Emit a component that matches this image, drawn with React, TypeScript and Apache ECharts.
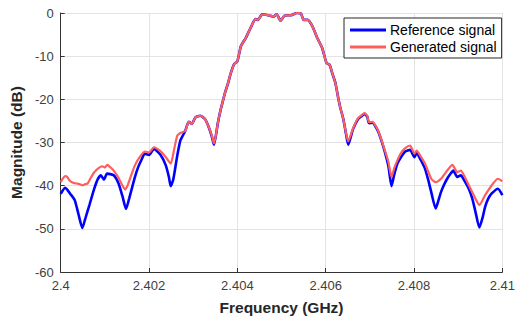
import React, { useEffect, useRef } from "react";
import * as echarts from "echarts";

const refFreq = [
  2.4, 2.4001, 2.40024, 2.40032, 2.4004, 2.40049, 2.40056, 2.40065, 2.40076, 2.40084,
  2.40091, 2.40098, 2.40105, 2.4012, 2.40131, 2.4014, 2.40148, 2.40155, 2.40161, 2.40168,
  2.401755, 2.40183, 2.4019, 2.402, 2.40211, 2.40227, 2.40238, 2.40245, 2.40249, 2.40255,
  2.40264, 2.40271, 2.40276, 2.40282, 2.4029, 2.40297, 2.40305, 2.40316, 2.40327, 2.40334,
  2.40342, 2.40347, 2.40352, 2.40356, 2.40362, 2.40367, 2.40372, 2.40378, 2.40385, 2.40393,
  2.404, 2.40408, 2.40419, 2.40426, 2.40433, 2.40441, 2.40447, 2.40456, 2.4047, 2.40482,
  2.40489, 2.40498, 2.40507, 2.40522, 2.40535, 2.40544, 2.4055, 2.40559, 2.4057, 2.40581,
  2.40592, 2.40602, 2.40609, 2.40615, 2.40622, 2.40629, 2.40633, 2.4064, 2.40646, 2.40651,
  2.40656, 2.40662, 2.40673, 2.4068, 2.40688, 2.40694, 2.40698, 2.40706, 2.40714, 2.40721,
  2.40732, 2.40742, 2.40749, 2.40755, 2.40762, 2.4077, 2.4078, 2.40791, 2.40801, 2.40806,
  2.40815, 2.40825, 2.40833, 2.40839, 2.40849, 2.40855, 2.40861, 2.40868, 2.40875, 2.40883,
  2.40889, 2.40898, 2.40906, 2.40915, 2.40924, 2.40932, 2.40939, 2.40948, 2.40955, 2.40961,
  2.40968, 2.40976, 2.4099, 2.41,
];
const refMag = [
  -41.9, -40.5, -42.2, -43.4, -46.5, -49.8, -47.5, -44.5, -40.7, -38.5,
  -37.6, -38.6, -37.2, -37.6, -39.5, -42.5, -45.4, -43, -40.7, -38,
  -35.7, -34, -32.6, -32.9, -31.5, -33, -35.3, -38, -40.1, -38.5,
  -33, -29.5, -28.5, -27.3, -25.2, -25.7, -24.2, -23.8, -24.6, -26.1,
  -28.5, -30.5, -28, -25.4, -22.5, -20.5, -18.5, -16.6, -14, -11.8,
  -11.2, -7.7, -5.8, -4.3, -2.8, -1.4, -1.6, -0.3, -0.5, -0.8,
  -0.3, -1.8, -0.6, -0.5, 0, -0.1, -1.6, -1.6, -3.1, -5.8,
  -8.1, -11.6, -12, -14, -16.2, -20, -21.9, -24.6, -28, -30.5,
  -29, -26.9, -24.6, -24, -23.4, -24, -25.5, -25.4, -26.5, -28,
  -31.5, -35.5, -40.1, -37.5, -35, -33.5, -32.1, -31.7, -33.4, -32.4,
  -34, -36.1, -39, -41.5, -45.3, -43.5, -41.5, -39.8, -38.4, -37.2,
  -36.5, -38, -37.6, -39, -40.7, -43, -46, -49.7, -47.5, -44.9,
  -43, -41.8, -40.7, -42.2,
];

const genFreq = [
  2.4, 2.40005, 2.4001, 2.40015, 2.4002, 2.40028, 2.40035, 2.40042, 2.4005, 2.40056,
  2.40061, 2.40068, 2.40076, 2.40085, 2.40094, 2.401, 2.401055, 2.40113, 2.4012, 2.4013,
  2.4014, 2.40146, 2.40152, 2.4016, 2.40168, 2.40178, 2.4019, 2.402, 2.40211, 2.40227,
  2.40238, 2.40249, 2.40257, 2.40264, 2.40271, 2.40282, 2.4029, 2.40297, 2.40305, 2.40316,
  2.40327, 2.40334, 2.40342, 2.40347, 2.40352, 2.40356, 2.40362, 2.40367, 2.40372, 2.40378,
  2.40385, 2.40393, 2.404, 2.40408, 2.40419, 2.40426, 2.40433, 2.40441, 2.40447, 2.40456,
  2.4047, 2.40482, 2.40489, 2.40498, 2.40507, 2.40522, 2.40535, 2.40544, 2.4055, 2.40559,
  2.4057, 2.40581, 2.40592, 2.40602, 2.40609, 2.40615, 2.40622, 2.40629, 2.40633, 2.4064,
  2.40646, 2.40651, 2.40656, 2.40662, 2.40673, 2.4068, 2.40688, 2.40694, 2.40698, 2.40706,
  2.40714, 2.40721, 2.40732, 2.40742, 2.40749, 2.40755, 2.40762, 2.4077, 2.4078, 2.40791,
  2.40801, 2.40806, 2.40815, 2.40825, 2.40839, 2.40849, 2.40861, 2.40875, 2.40887, 2.40898,
  2.40906, 2.40915, 2.40924, 2.40939, 2.40948, 2.40961, 2.40979, 2.4099, 2.41,
];
const genMag = [
  -39.2, -38.3, -37.8, -38, -38.8, -39.3, -39.5, -39.6, -39.9, -39.6,
  -39.5, -38.2, -36.9, -36, -35.5, -35.8, -35.2, -35.8, -36.5, -38,
  -40, -40.9, -39.8, -37.5, -35.3, -33.5, -32.1, -32.3, -31.1, -32.1,
  -33.4, -34.9, -31.5, -28.4, -27.8, -27.3, -25.2, -25.7, -24.2, -23.8,
  -24.6, -26.1, -28.3, -30.2, -28, -25.4, -22.5, -20.5, -18.5, -16.6,
  -14, -11.8, -11.2, -7.7, -5.8, -4.3, -2.8, -1.4, -1.6, -0.3,
  -0.5, -0.8, -0.3, -1.8, -0.6, -0.5, 0, -0.1, -1.6, -1.6,
  -3.1, -5.8, -8.1, -11.6, -12, -14, -16.2, -20, -21.9, -24.6,
  -27.8, -29.7, -28.5, -26.7, -24.4, -23.8, -23.2, -23.8, -25.3, -25.2,
  -26.3, -27.8, -31.2, -34.5, -38, -36, -34.2, -32.5, -31.3, -30.7,
  -32.6, -31.9, -33.2, -34.9, -38.4, -39.2, -38.4, -36.5, -35.2, -36.9,
  -36.5, -38, -39.9, -43, -44.5, -42.2, -39.5, -38.4, -39,
];

const seriesNames = ["Reference signal", "Generated signal"];
const xMin = 2.4;
const xMax = 2.41;
const xStep = 0.002;
const yMin = -60;
const yMax = 0;
const yStep = 10;

export default function App() {
  const ref = useRef<HTMLDivElement>(null);
  useEffect(() => {
    if (!ref.current) return;
    const chart = echarts.init(ref.current, null, { renderer: "svg" });
    const font = "Liberation Sans, Arial, sans-serif";
    const axisColor = "#333333";
    chart.setOption({
      animation: false,
      backgroundColor: "#ffffff",
      textStyle: { fontFamily: font },
      grid: { left: 54, right: 12, top: 13, bottom: 46 },
      legend: {
        left: 344,
        top: 18,
        orient: "vertical",
        icon: "rect",
        itemWidth: 36,
        itemHeight: 3,
        itemGap: 3,
        padding: [5, 5, 4, 6],
        borderColor: "#262626",
        borderWidth: 1,
        backgroundColor: "#ffffff",
        textStyle: { fontFamily: font, fontSize: 14, color: "#000000", padding: [0, 0, 0, -1] },
        data: seriesNames,
      },
      xAxis: {
        type: "value",
        min: xMin,
        max: xMax,
        interval: xStep,
        name: "Frequency (GHz)",
        nameLocation: "middle",
        nameGap: 27,
        nameTextStyle: { fontFamily: font, fontSize: 15.5, fontWeight: "bold", color: "#262626" },
        axisLine: { show: true, onZero: false, lineStyle: { color: axisColor, width: 1 } },
        axisTick: { show: true, inside: true, length: 4, lineStyle: { color: axisColor } },
        axisLabel: {
          fontFamily: font,
          fontSize: 13,
          color: "#404040",
          margin: 7,
          formatter: (v: number) => String(parseFloat(v.toFixed(3))),
        },
        splitLine: { show: true, lineStyle: { color: "#e3e3e3", width: 1 } },
      },
      yAxis: {
        type: "value",
        min: yMin,
        max: yMax,
        interval: yStep,
        name: "Magnitude (dB)",
        nameLocation: "middle",
        nameGap: 29,
        nameTextStyle: { fontFamily: font, fontSize: 15.5, fontWeight: "bold", color: "#262626" },
        axisLine: { show: true, lineStyle: { color: axisColor, width: 1 } },
        axisTick: { show: true, inside: true, length: 4, lineStyle: { color: axisColor } },
        axisLabel: { fontFamily: font, fontSize: 13, color: "#404040", margin: 7 },
        splitLine: { show: true, lineStyle: { color: "#e3e3e3", width: 1 } },
      },
      series: [
        {
          name: seriesNames[0],
          type: "line",
          showSymbol: false,
          symbol: "none",
          smooth: 0.2,
          color: "#0000ff",
          lineStyle: { color: "#0000ff", width: 2.6 },
          data: refFreq.map((f, i) => [f, refMag[i]]),
          z: 2,
        },
        {
          name: seriesNames[1],
          type: "line",
          showSymbol: false,
          symbol: "none",
          smooth: 0.2,
          color: "#ff5e5e",
          lineStyle: { color: "#ff5e5e", width: 2.2 },
          data: genFreq.map((f, i) => [f, genMag[i]]),
          z: 3,
        },
      ],
    });
    return () => chart.dispose();
  }, []);
  return (
    <div
      ref={ref}
      style={{ position: "fixed", left: 0, top: 0, width: 518, height: 320 }}
    />
  );
}
